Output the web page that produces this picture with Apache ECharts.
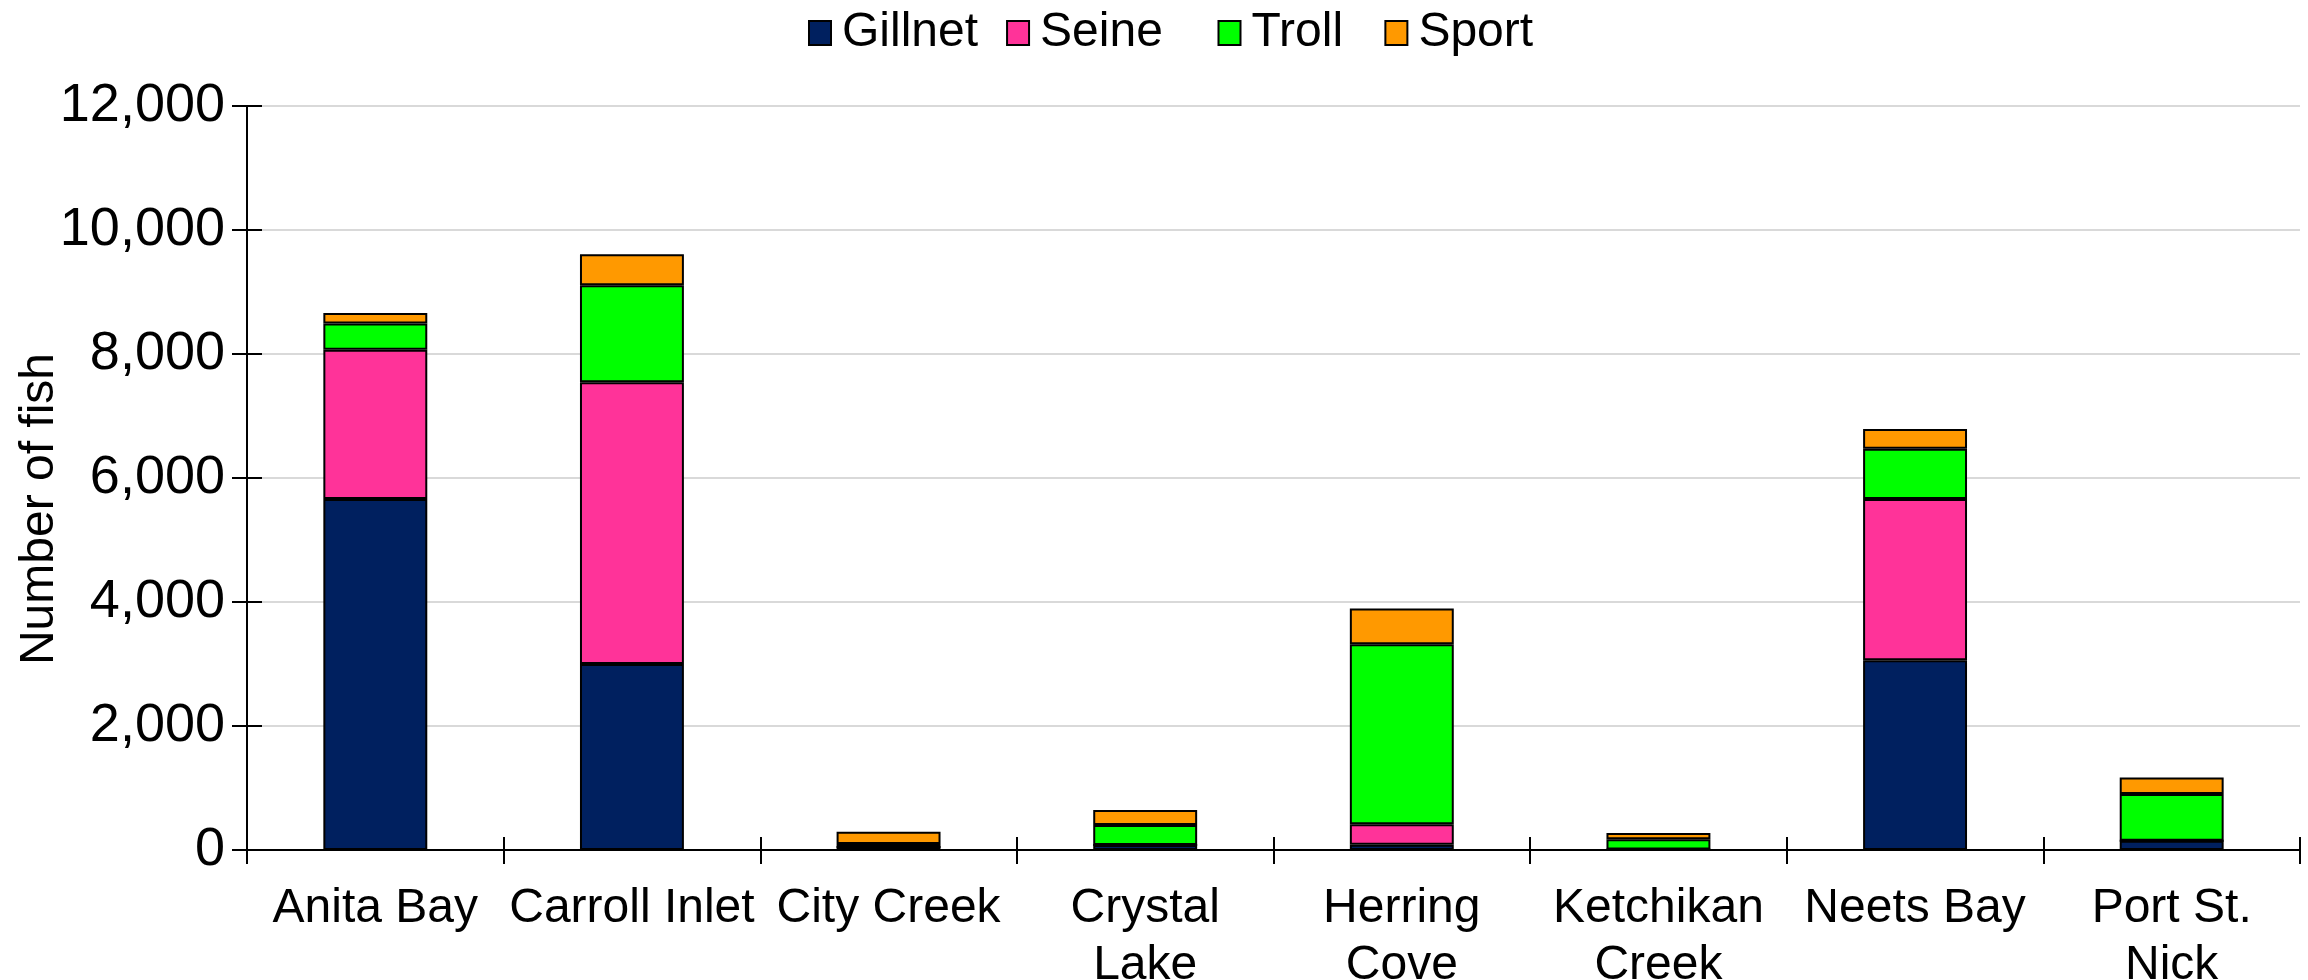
<!DOCTYPE html>
<html>
<head>
<meta charset="utf-8">
<title>Number of fish by location and gear</title>
<script src="https://cdn.jsdelivr.net/npm/echarts@6/dist/echarts.min.js"></script>
<style>
  html, body { margin: 0; padding: 0; background: #fff; }
  #chart { width: 2308px; height: 980px; }
</style>
</head>
<body>
<div id="chart"></div>
<script>
// categories along the x axis
const locations = ['Anita Bay', 'Carroll Inlet', 'City Creek', 'Crystal\nLake', 'Herring\nCove', 'Ketchikan\nCreek', 'Neets Bay', 'Port St.\nNick'];

// catch per gear type
const gillnet = [5660, 3000, 50, 80, 85, 10, 3060, 150];
const seine   = [2410, 4545, 0, 0, 330, 0, 2600, 0];
const troll   = [420, 1565, 45, 325, 2905, 165, 810, 755];
const sport   = [170, 500, 200, 240, 575, 100, 320, 265];

const yTicks = [0, 2000, 4000, 6000, 8000, 10000, 12000];

const font = 'Liberation Sans, Arial, sans-serif';

const chart = echarts.init(document.getElementById('chart'));

const makeSeries = (name, data, color) => ({
  name,
  type: 'bar',
  stack: 'total',
  barWidth: '40.5%',
  data,
  itemStyle: {
    color,
    borderColor: '#000',
    borderWidth: 2
  }
});

// Excel spaced the legend entries unevenly; trailing spaces mimic that
const legendPad = { Seine: '  ', Troll: ' ' };

const option = {
  animation: false,
  backgroundColor: '#fff',
  textStyle: { fontFamily: font },
  legend: {
    left: 803,
    top: 4,
    itemWidth: 22,
    itemHeight: 24,
    itemGap: 28,
    icon: 'rect',
    formatter: name => name + (legendPad[name] || ''),
    textStyle: {
      fontFamily: font,
      fontSize: 48,
      color: '#000',
      padding: [0, 0, 0, 6]
    },
    data: ['Gillnet', 'Seine', 'Troll', 'Sport']
  },
  grid: {
    left: 247,
    right: 8,
    top: 106,
    bottom: 130,
    outerBoundsMode: 'none'
  },
  xAxis: [
    {
      type: 'category',
      data: locations,
      axisLine: { lineStyle: { color: '#000', width: 2 } },
      axisTick: { show: true, length: 14, lineStyle: { color: '#000', width: 2 } },
      axisLabel: {
        interval: 0,
        margin: 30,
        fontFamily: font,
        fontSize: 48,
        lineHeight: 57,
        color: '#000'
      }
    },
    {
      // second copy only for the inner half of the crossing ticks
      type: 'category',
      position: 'bottom',
      data: locations,
      axisLine: { show: false },
      axisTick: { show: true, inside: true, length: 13, lineStyle: { color: '#000', width: 2 } },
      axisLabel: { show: false }
    }
  ],
  yAxis: [
    {
      type: 'value',
      min: yTicks[0],
      max: yTicks[yTicks.length - 1],
      interval: 2000,
      name: 'Number of fish',
      nameLocation: 'middle',
      nameGap: 183,
      nameMoveOverlap: false,
      nameTextStyle: {
        fontFamily: font,
        fontSize: 48,
        color: '#000',
        padding: [0, 62, 0, 0]
      },
      axisLine: { show: true, lineStyle: { color: '#000', width: 2 } },
      axisTick: { show: true, length: 15, lineStyle: { color: '#000', width: 2 } },
      axisLabel: {
        margin: 22,
        fontFamily: font,
        fontSize: 54,
        color: '#000',
        formatter: v => v.toLocaleString('en-US')
      },
      splitLine: { lineStyle: { color: '#d9d9d9', width: 2 } }
    },
    {
      type: 'value',
      position: 'left',
      min: yTicks[0],
      max: yTicks[yTicks.length - 1],
      interval: 2000,
      axisLine: { show: false },
      axisTick: { show: true, inside: true, length: 15, lineStyle: { color: '#000', width: 2 } },
      axisLabel: { show: false },
      splitLine: { show: false }
    }
  ],
  series: [
    makeSeries('Gillnet', gillnet, '#00205f'),
    makeSeries('Seine', seine, '#ff3399'),
    makeSeries('Troll', troll, '#00ff00'),
    makeSeries('Sport', sport, '#ff9900')
  ]
};

chart.setOption(option);
</script>
</body>
</html>
